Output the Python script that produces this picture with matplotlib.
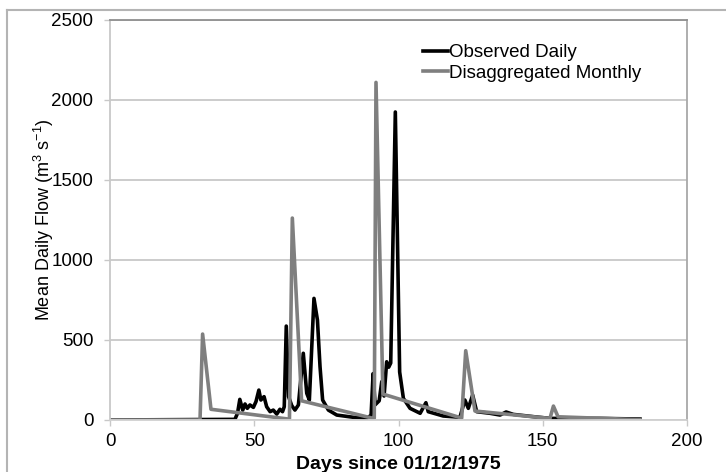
import matplotlib
matplotlib.use("Agg")
import matplotlib.pyplot as plt
from matplotlib.lines import Line2D

plt.rcParams['font.family'] = ['Liberation Sans', 'DejaVu Sans']
plt.rcParams['mathtext.default'] = 'regular'

# observed daily flow, vertices of the hydrograph (day, m3/s)
obs_day = [0, 43.3, 44.2, 45.0, 46.0, 46.8, 47.6, 48.5, 49.7, 50.6, 51.6, 52.3,
           53.4, 54.3, 55.5, 56.6, 57.8, 58.9, 59.8, 60.4, 61.1, 61.9, 63.0,
           64.1, 65.3, 67.0, 68.2, 69.1, 70.7, 71.9, 72.8, 73.7, 75.7, 78.6,
           84.3, 89.0, 90.5, 91.2, 91.9, 93.3, 94.2, 95.0, 95.9, 96.6, 97.3,
           98.9, 100.4, 101.7, 104.0, 107.5, 109.5, 110.3, 115.5, 121.3, 123.0,
           124.2, 125.7, 127.1, 131.7, 135.2, 137.3, 139.8, 146.7, 152.5,
           169.8, 183.7]
obs_flow = [0, 4, 42, 129, 62, 100, 73, 94, 79, 115, 187, 125,
            146, 83, 52, 62, 37, 67, 52, 83, 587, 146, 90,
            62, 94, 417, 167, 125, 760, 625, 333, 125, 62, 31,
            17, 10, 30, 290, 95, 120, 240, 150, 364, 330, 356,
            1925, 300, 135, 73, 42, 108, 52, 25, 17, 125,
            73, 156, 52, 42, 31, 50, 35, 21, 10,
            10, 6]

# monthly totals disaggregated to days (day, m3/s)
mon_day = [0, 31.2, 32.1, 35.0, 62.2, 63.2, 66.4, 90.8, 91.6, 92.2, 94.6,
           121.9, 123.3, 126.5, 152.5, 153.7, 155.3, 183.7]
mon_flow = [0, 0, 537, 67, 5, 1262, 120, 12, 12, 2110, 162,
            12, 433, 56, 10, 87, 20, 2]

fig = plt.figure(figsize=(7.26, 4.72), dpi=100)
ax = fig.add_axes([110 / 726, 1 - 420 / 472, 577 / 726, 400 / 472])

ax.plot(obs_day, obs_flow, color='black', lw=2.6, label='Observed Daily',
        solid_joinstyle='round')
ax.plot(mon_day, mon_flow, color='#7f7f7f', lw=2.6, label='Disaggregated Monthly',
        solid_joinstyle='round')

ax.set_xlim(0, 200)
ax.set_ylim(0, 2500)
ax.set_xticks([0, 50, 100, 150, 200])
ax.set_yticks([0, 500, 1000, 1500, 2000, 2500])
ax.yaxis.grid(True, color='#c8c8c8', lw=1.3)
ax.set_axisbelow(True)

for side, col in [('top', '#909090'), ('right', '#a8a8a8'),
                  ('left', '#c8c8c8'), ('bottom', '#d0d0d0')]:
    ax.spines[side].set_color(col)
    ax.spines[side].set_linewidth(1.3)

ax.tick_params(axis='both', direction='out', length=4, width=1,
               color='#c8c8c8', labelsize=13.5, colors='black')
ax.tick_params(axis='y', pad=8)
ax.tick_params(axis='x', pad=5)

ax.set_xlabel('Days since 01/12/1975', fontsize=14, fontweight='bold', labelpad=5)
ax.set_ylabel('Mean Daily Flow (m$^3$ s$^{-1}$)', fontsize=13, labelpad=-3)

ax.legend(loc='upper left', bbox_to_anchor=(0.542, 0.94), frameon=False,
          fontsize=13.5, borderpad=0, borderaxespad=0, handlelength=1.35,
          handletextpad=0.05, labelspacing=0.2)

# chart area border
fig.add_artist(Line2D([7 / 726, 1.0], [1 - 10 / 472, 1 - 10 / 472],
                      color='#b4b4b4', lw=1.5, transform=fig.transFigure))
fig.add_artist(Line2D([7 / 726, 7 / 726], [0.0, 1 - 10 / 472],
                      color='#b4b4b4', lw=1.5, transform=fig.transFigure))

fig.savefig('out.png', dpi=100)
